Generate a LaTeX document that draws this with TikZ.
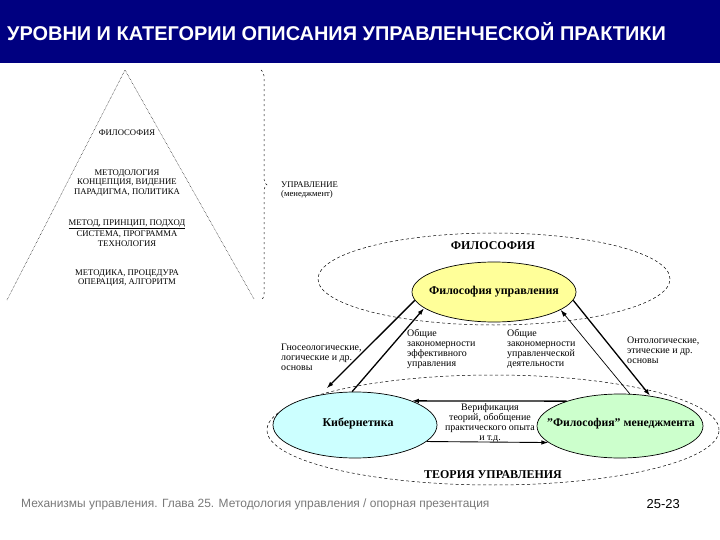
\documentclass[tikz,border=0pt]{standalone}
\usepackage{fontspec}
\setmainfont{Liberation Serif}
\newfontfamily\arialf{Liberation Sans}
\usetikzlibrary{shapes.geometric,arrows.meta,decorations.pathreplacing}
\definecolor{navybar}{RGB}{0,0,128}
\definecolor{yelfill}{RGB}{255,255,153}
\definecolor{cyanfill}{RGB}{204,255,255}
\definecolor{greenfill}{RGB}{204,255,204}
\definecolor{footgray}{RGB}{120,120,120}
\begin{document}
\begin{tikzpicture}[x=1bp,y=-1bp,
  pyr/.style={font=\fontsize{8.7}{9.7}\selectfont, align=center, inner sep=0},
  small/.style={font=\fontsize{10}{10.2}\selectfont, align=left, inner sep=0, anchor=west},
  ell/.style={ellipse, draw, line width=0.7bp, inner sep=0},
  bigell/.style={ellipse, draw, dash pattern=on 3bp off 2.5bp, line width=0.5bp, inner sep=0},
  lbl/.style={font=\fontsize{12}{14}\selectfont\bfseries, inner sep=0},
  arr/.style={-{Latex[length=7bp,width=4.5bp]}, line width=1.3bp},
  thinarr/.style={-{Latex[length=7bp,width=4.5bp]}, line width=0.7bp}]

\useasboundingbox (0,0) rectangle (720,540);

% title bar
\fill[navybar] (0,0) rectangle (720,63);
\node[anchor=west, text=white, font=\arialf\bfseries\fontsize{20}{23}\selectfont, inner sep=0] (title) at (7,32)
  {УРОВНИ И КАТЕГОРИИ ОПИСАНИЯ УПРАВЛЕНЧЕСКОЙ ПРАКТИКИ};

% pyramid
\coordinate (apex) at (125,70);
\coordinate (bl) at (7,300);
\coordinate (br) at (254,299);
\draw[densely dotted, line width=0.5bp] (bl) -- (apex) -- (br);
\node[pyr] (p1) at (127,133) {ФИЛОСОФИЯ};
\node[pyr] (p2) at (127,183) {МЕТОДОЛОГИЯ\\КОНЦЕПЦИЯ, ВИДЕНИЕ\\ПАРАДИГМА, ПОЛИТИКА};
\node[pyr] (p3) at (127,233) {\underline{МЕТОД, ПРИНЦИП, ПОДХОД}\\[1.5bp]СИСТЕМА, ПРОГРАММА\\ТЕХНОЛОГИЯ};
\node[pyr] (p4) at (127,278) {МЕТОДИКА, ПРОЦЕДУРА\\ОПЕРАЦИЯ, АЛГОРИТМ};

% brace and label
\coordinate (bt) at (261,70);
\coordinate (bb) at (261,300);
\draw[decorate, decoration={brace, amplitude=6bp}, dash pattern=on 2bp off 3bp, line width=0.5bp] (bt) -- (bb);
\node[pyr, align=left, anchor=west] (upr) at (281,190) {УПРАВЛЕНИЕ\\(менеджмент)};

% big dashed ellipses
\node[bigell, minimum width=352bp, minimum height=92bp] (phil) at (494,279) {};
\node[bigell, minimum width=452bp, minimum height=110bp] (teor) at (493,430) {};
\node[lbl] (philt) at (493,246) {ФИЛОСОФИЯ};
\node[lbl] (teort) at (493,475) {ТЕОРИЯ УПРАВЛЕНИЯ};

% filled ellipses
\node[ell, fill=yelfill, minimum width=164bp, minimum height=60bp] (yel) at (494,292) {};
\node[lbl] (yelt) at (494,292) {Философия управления};
\node[ell, fill=cyanfill, minimum width=164bp, minimum height=66bp] (cyb) at (355,425) {};
\node[lbl] (cybt) at (358,423) {Кибернетика};
\node[ell, fill=greenfill, minimum width=166bp, minimum height=64bp] (grn) at (620,426) {};
\node[font=\fontsize{11.8}{13}\selectfont\bfseries, inner sep=0] (grnt) at (621,424) {\symbol{34}Философия\symbol{34} менеджмента};

% connectors
\draw[arr, shorten >=9bp] (yel.186) -- (cyb.139);
\draw[arr] (cyb.95) -- (yel.193);
\draw[arr] (yel.354) -- (grn.45);
\draw[thinarr] (grn.73) -- (yel.345);
\draw[arr] (grn.155) -- (cyb.23);
\draw[thinarr, line width=0.9bp] (cyb.-13) -- (grn.193);

% labels
\node[small] (gnos) at (281,357) {Гносеологические,\\логические и др.\\основы};
\node[small] (ob1) at (407,349) {Общие\\закономерности\\эффективного\\управления};
\node[small] (ob2) at (507,349) {Общие\\закономерности\\управленческой\\деятельности};
\node[small] (ont) at (627,350) {Онтологические,\\этические и др.\\основы};
\node[small, align=center, anchor=center] (ver) at (490,423) {Верификация\\теорий, обобщение\\практического опыта\\и т.д.};

% footer
\node[anchor=west, text=footgray, font=\arialf\fontsize{12}{14}\selectfont, inner sep=0] (foot) at (21,504)
  {Механизмы управления. Глава 25. Методология управления / опорная презентация};
\node[anchor=east, font=\arialf\fontsize{13}{15}\selectfont, inner sep=0] (pg) at (680,504) {25-23};
\end{tikzpicture}
\end{document}
